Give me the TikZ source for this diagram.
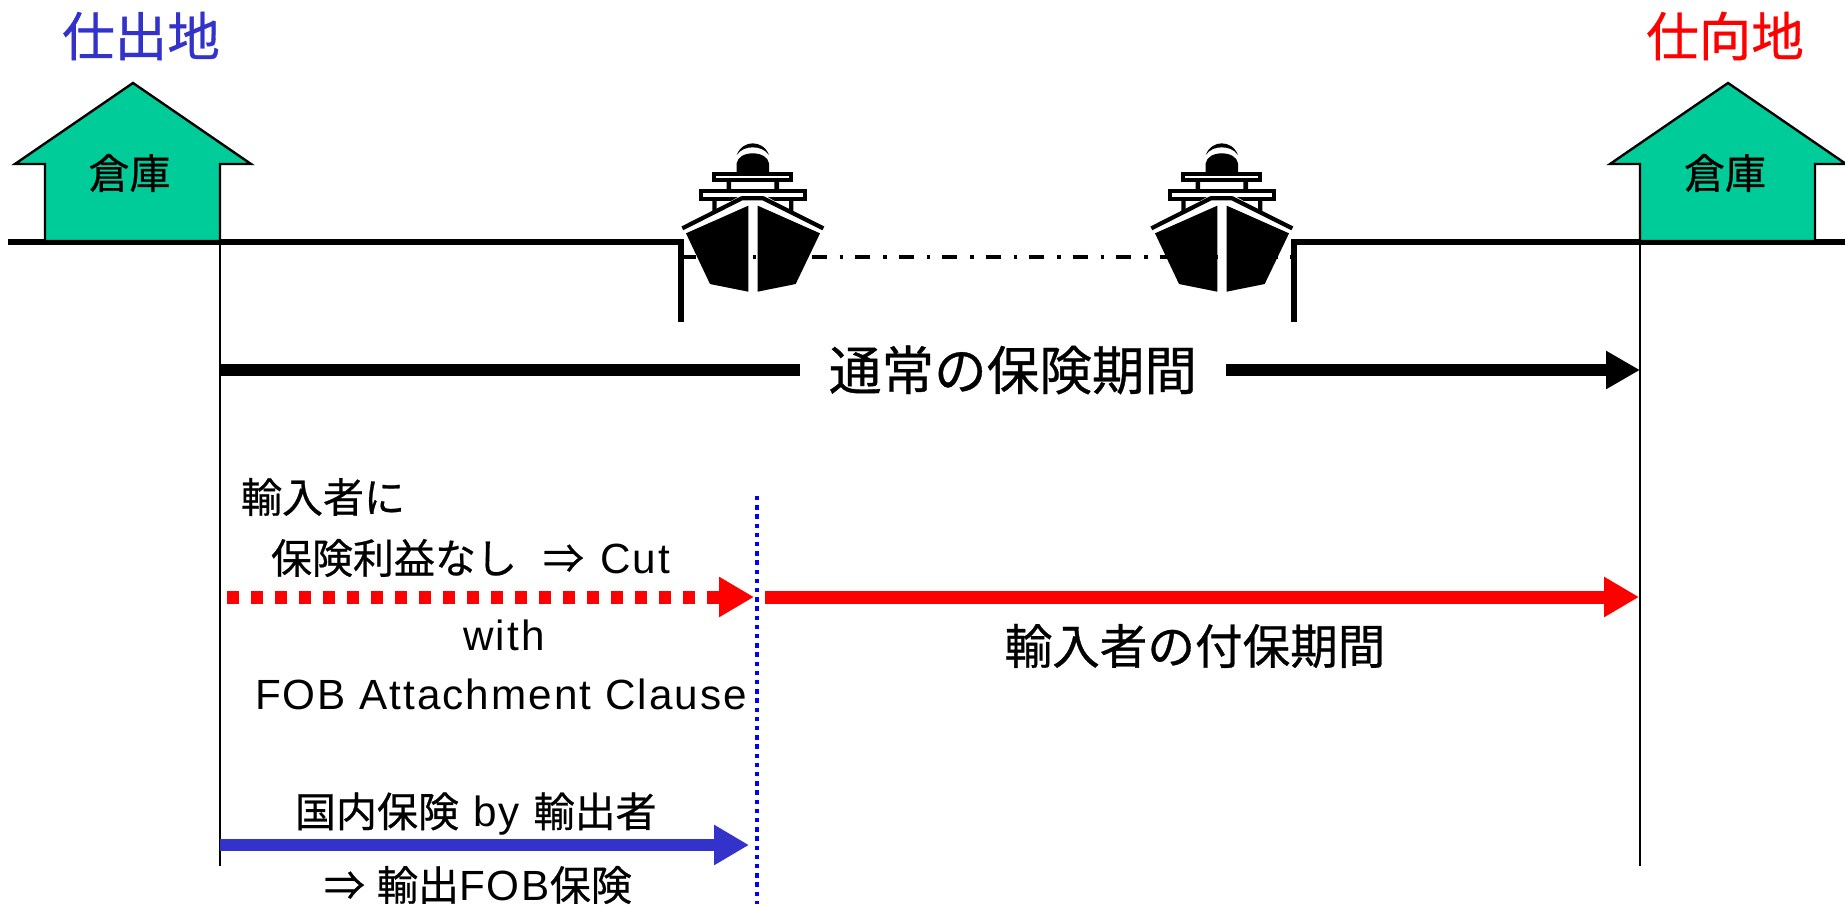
\documentclass[tikz,border=0pt]{standalone}
\usepackage{fontspec}
\setmainfont{Noto Sans CJK JP}[RawFeature={embolden=0.6}]
\newfontfamily\lat{Liberation Sans}[LetterSpace=4.8,Scale=1.03]
\usetikzlibrary{arrows.meta}
\definecolor{bluetxt}{HTML}{3333CC}
\definecolor{housegreen}{HTML}{00CC99}
\tikzset{
  x=0.5pt,y=-0.5pt,
  lbl/.style={inner sep=0pt,outer sep=0pt,text=black},
  ground/.style={line width=3pt,line join=miter,line cap=butt},
  guide/.style={line width=1pt},
  bigarrow/.style={line width=6pt,-{Triangle[length=17pt,width=18pt]}},
  house/.pic={
    \draw[fill=housegreen,line width=1.2pt,line join=miter]
      (0,241)--(0,164)--(-30,164)--(88,83)--(206,164)--(175,164)--(175,241)--cycle;
  },
  ship/.pic={
    \begin{scope}[x=0.16667pt,y=-0.16667pt]
      \fill[white] (157,212) rectangle (400,260);
      \draw[line width=2.1pt,fill=white] (163,133) rectangle (394,149);
      \fill (200,153) rectangle (213,178) (343,153) rectangle (357,178);
      \draw[line width=2.1pt,fill=white] (123,184) rectangle (434,206);
      \fill (157,205) rectangle (170,245) (387,205) rectangle (400,245);
      \fill (157,205) rectangle (170,212) (387,205) rectangle (440,212);
      \fill[white] (60,300)--(245,195)--(312,195)--(497,300)--(482,312)--(75,312)--cycle;
      \draw[line width=2.1pt,line join=round] (67,295)--(245,205)--(310,205)--(490,295);
      \fill (78,310)--(265,227)--(265,485)--(150,462)--cycle;
      \fill (293,227)--(480,310)--(407,462)--(293,485)--cycle;
      \fill (230,128)--(230,100) .. controls (233,80) and (255,70) .. (278,70)
        .. controls (302,70) and (324,80) .. (327,100)--(327,128)--cycle;
      \fill (230,75) .. controls (240,50) and (260,40) .. (278,40)
        .. controls (297,40) and (317,50) .. (327,75)
        .. controls (315,58) and (297,52) .. (278,52)
        .. controls (260,52) and (242,58) .. (230,75)--cycle;
    \end{scope}
  }
}
\begin{document}
\begin{tikzpicture}
\useasboundingbox (0,0) rectangle (1845,904);

% named anchors
\coordinate (gl) at (8,241.5);
\coordinate (qlTop) at (681,241.5);
\coordinate (qlBot) at (681,322);
\coordinate (qrTop) at (1294,241.5);
\coordinate (qrBot) at (1294,322);
\coordinate (gr) at (1845,241.5);
\coordinate (seaL) at (681,257);
\coordinate (seaR) at (1294,257);
\coordinate (vlT) at (220,241);
\coordinate (vlB) at (220,866);
\coordinate (vrT) at (1640,241);
\coordinate (vrB) at (1640,866);
\coordinate (stdA) at (220,370);
\coordinate (stdB) at (1640,370);
\coordinate (redA) at (227,597);
\coordinate (redB) at (754,597);
\coordinate (redC) at (765,597);
\coordinate (redD) at (1639,597);
\coordinate (bluA) at (220,845);
\coordinate (bluB) at (749,845);
\coordinate (fobT) at (757,496);
\coordinate (fobB) at (757,904);

% sea line, ships go above it
\draw[line width=2pt,dash pattern=on 7.5pt off 6.5pt on 1.75pt off 6pt] (seaL)--(seaR);
\draw[ground] (gl)--(qlTop)--(qlBot);
\draw[ground] (gr)--(qrTop)--(qrBot);
\pic at (660,130) {ship};
\pic at (1129,130) {ship};

% houses
\pic at (45,0) {house};
\pic at (1640,0) {house};

% guides
\draw[guide] (vlT)--(vlB);
\draw[guide] (vrT)--(vrB);
\draw[blue,line width=2pt,dash pattern=on 2.2pt off 2.4pt] (fobT)--(fobB);

% arrows
\draw[bigarrow,black] (stdA)--(stdB);
\node[lbl,fill=white,minimum width=213pt,minimum height=26pt,font=\fontsize{26.3}{26}\selectfont] (std) at (1013,370) {通常の保険期間};

\draw[red,line width=6.5pt,dash pattern=on 6pt off 6pt] (redA)--(730,597);
\draw[red,line width=6.5pt,-{Triangle[length=17.5pt,width=19pt]}] (714,597)--(redB);
\draw[red,line width=6.5pt,-{Triangle[length=17.5pt,width=19pt]}] (redC)--(redD);
\draw[bluetxt,line width=6pt,-{Triangle[length=17.5pt,width=19pt]}] (bluA)--(bluB);

% labels
\node[lbl,text=bluetxt,font=\fontsize{26.3}{26}\selectfont] (orig) at (141,36) {仕出地};
\node[lbl,text=red,font=\fontsize{26.3}{26}\selectfont] (dest) at (1725,36) {仕向地};
\node[lbl,font=\fontsize{20.5}{20}\selectfont] (wh1) at (129.5,173) {倉庫};
\node[lbl,font=\fontsize{20.5}{20}\selectfont] (wh2) at (1725,173) {倉庫};
\node[lbl,font=\fontsize{20.5}{20}\selectfont,anchor=west] (t1) at (241,497) {輸入者に};
\node[lbl,font=\fontsize{20.5}{20}\selectfont,anchor=west] (t2) at (271,558) {保険利益なし\hspace{13pt}⇒\hspace{8pt}{\lat Cut}};
\node[lbl,font=\fontsize{20.5}{20}\selectfont\lat] (t3) at (504,635) {with};
\node[lbl,font=\fontsize{20.5}{20}\selectfont\lat,anchor=west] (t4) at (255,694) {FOB Attachment Clause};
\node[lbl,font=\fontsize{23.8}{24}\selectfont] (t5) at (1195,646) {輸入者の付保期間};
\node[lbl,font=\fontsize{20.5}{20}\selectfont,anchor=west] (t6) at (295,814) {国内保険\hspace{7pt}{\lat by}\hspace{7pt}輸出者};
\node[lbl,font=\fontsize{20.5}{20}\selectfont,anchor=west] (t7) at (324,885) {⇒\hspace{6pt}輸出{\lat FOB}保険};
\end{tikzpicture}
\end{document}
